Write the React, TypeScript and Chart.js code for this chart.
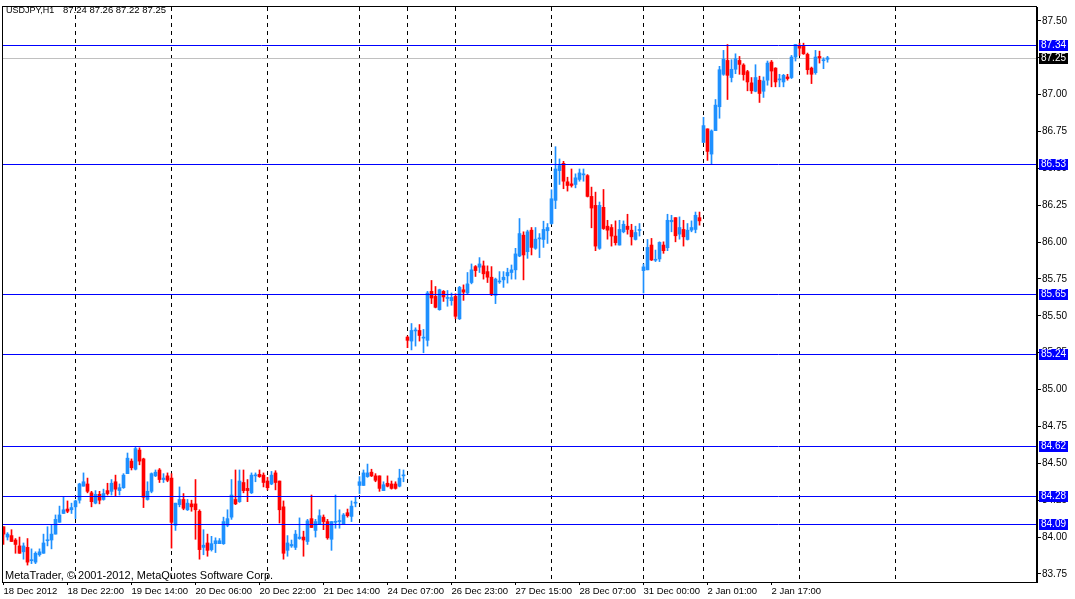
import { useEffect, useRef } from "react";
import { Chart, registerables, type Plugin } from "chart.js";

Chart.register(...registerables);

const FONT = "'Liberation Sans', Arial, sans-serif";

// time labels, one every 16 bars starting at bar 0
const timeLabels = [
  "18 Dec 2012", "18 Dec 22:00", "19 Dec 14:00", "20 Dec 06:00", "20 Dec 22:00",
  "21 Dec 14:00", "24 Dec 07:00", "26 Dec 23:00", "27 Dec 15:00", "28 Dec 07:00",
  "31 Dec 00:00", "2 Jan 01:00", "2 Jan 17:00",
];
const labelStep = 16;
// bars where a new day starts (dashed separators)
const daySeparators = [18, 42, 66, 89, 101, 113, 137, 160, 175, 199, 223];

const opens = [
  84.07, 84.0, 84.01, 83.98, 83.94, 83.9, 83.93, 83.84, 83.83, 83.88,
  83.89, 83.975, 83.98, 84.02, 84.1, 84.16, 84.19, 84.185, 84.205, 84.25,
  84.345, 84.36, 84.3, 84.23, 84.29, 84.255, 84.315, 84.31, 84.375, 84.315,
  84.335, 84.43, 84.515, 84.46, 84.59, 84.53, 84.255, 84.31, 84.415, 84.455,
  84.39, 84.415, 84.4, 84.08, 84.22, 84.255, 84.185, 84.225, 84.225, 84.175,
  83.93, 83.96, 83.915, 83.955, 83.955, 83.955, 84.08, 84.135, 84.255, 84.24,
  84.37, 84.33, 84.3, 84.415, 84.425, 84.42, 84.38, 84.36, 84.435, 84.38,
  84.205, 83.91, 83.94, 83.93, 83.99, 84.0, 83.97, 84.125, 84.045, 84.09,
  84.135, 84.105, 83.985, 84.1, 84.105, 84.09, 84.165, 84.14, 84.23, 84.35,
  84.35, 84.41, 84.44, 84.415, 84.415, 84.315, 84.365, 84.36, 84.36, 84.345,
  84.415, 85.356, 85.329, 85.398, 85.401, 85.349, 85.334, 85.666, 85.632, 85.542,
  85.666, 85.618, 85.603, 85.632, 85.48, 85.677, 85.655, 85.726, 85.834, 85.83,
  85.839, 85.8, 85.762, 85.639, 85.73, 85.744, 85.771, 85.794, 85.812, 85.906,
  86.047, 85.935, 86.081, 85.958, 86.022, 86.018, 86.077, 86.126, 86.283, 86.485,
  86.534, 86.409, 86.395, 86.391, 86.425, 86.456, 86.451, 86.31, 86.249, 85.958,
  86.236, 86.108, 86.099, 86.041, 85.98, 86.07, 86.108, 86.081, 86.018, 86.079,
  85.807, 85.812, 85.98, 85.877, 85.886, 85.98, 85.962, 86.138, 86.166, 86.054,
  86.086, 86.018, 86.081, 86.086, 86.166, 86.676, 86.768, 86.597, 86.756, 86.918,
  87.138, 87.232, 87.116, 87.172, 87.232, 87.201, 87.156, 87.08, 87.023, 87.098,
  87.023, 87.098, 87.221, 87.18, 87.1, 87.086, 87.12, 87.116, 87.255, 87.329,
  87.327, 87.273, 87.18, 87.149, 87.259, 87.23, 87.24,
];
const highs = [
  84.07, 84.03, 84.05, 83.99, 84.0, 83.96, 83.99, 83.92, 83.9, 83.92,
  84.02, 84.07, 84.08, 84.15, 84.21, 84.27, 84.245, 84.23, 84.25, 84.365,
  84.435, 84.4, 84.31, 84.315, 84.31, 84.325, 84.365, 84.39, 84.42, 84.36,
  84.43, 84.57, 84.53, 84.61, 84.605, 84.535, 84.375, 84.435, 84.455, 84.465,
  84.43, 84.435, 84.43, 84.23, 84.34, 84.295, 84.255, 84.25, 84.39, 84.185,
  84.05, 84.02, 84.005, 83.995, 83.99, 84.135, 84.185, 84.39, 84.455, 84.455,
  84.455, 84.39, 84.435, 84.435, 84.455, 84.435, 84.405, 84.445, 84.45, 84.38,
  84.245, 84.01, 83.98, 84.045, 84.13, 84.04, 84.12, 84.285, 84.12, 84.185,
  84.15, 84.12, 84.105, 84.285, 84.185, 84.16, 84.19, 84.245, 84.27, 84.41,
  84.455, 84.495, 84.46, 84.43, 84.415, 84.375, 84.415, 84.38, 84.375, 84.46,
  84.455, 85.363, 85.448, 85.419, 85.441, 85.408, 85.666, 85.74, 85.699, 85.681,
  85.672, 85.672, 85.655, 85.65, 85.7, 85.71, 85.794, 85.852, 85.841, 85.895,
  85.872, 85.839, 85.834, 85.756, 85.8, 85.8, 85.823, 85.845, 85.958, 86.16,
  86.07, 86.081, 86.099, 86.099, 86.058, 86.142, 86.126, 86.355, 86.647, 86.564,
  86.548, 86.44, 86.496, 86.463, 86.496, 86.496, 86.458, 86.373, 86.339, 86.272,
  86.357, 86.148, 86.119, 86.144, 86.148, 86.144, 86.189, 86.121, 86.108, 86.126,
  85.852, 86.018, 86.025, 85.946, 86.002, 86.002, 86.189, 86.182, 86.166, 86.171,
  86.148, 86.126, 86.144, 86.204, 86.204, 86.846, 86.768, 86.761, 86.967, 87.192,
  87.3, 87.34, 87.237, 87.277, 87.259, 87.21, 87.165, 87.116, 87.203, 87.125,
  87.12, 87.228, 87.232, 87.183, 87.138, 87.138, 87.138, 87.266, 87.34, 87.349,
  87.349, 87.282, 87.187, 87.3, 87.295, 87.25, 87.26,
];
const lows = [
  83.95, 83.98, 83.97, 83.89, 83.89, 83.85, 83.81, 83.82, 83.82, 83.87,
  83.89, 83.94, 83.92, 84.02, 84.1, 84.16, 84.165, 84.16, 84.125, 84.23,
  84.345, 84.3, 84.205, 84.225, 84.225, 84.25, 84.285, 84.285, 84.275, 84.285,
  84.33, 84.43, 84.455, 84.455, 84.49, 84.2, 84.25, 84.3, 84.41, 84.37,
  84.37, 84.375, 83.925, 84.045, 84.205, 84.185, 84.18, 84.175, 83.985, 83.85,
  83.88, 83.87, 83.905, 83.895, 83.955, 83.95, 84.07, 84.12, 84.22, 84.235,
  84.3, 84.24, 84.295, 84.375, 84.405, 84.34, 84.32, 84.355, 84.32, 84.095,
  83.85, 83.87, 83.93, 83.915, 83.985, 83.87, 83.95, 84.065, 84.0, 84.085,
  84.05, 83.985, 83.91, 84.06, 84.06, 84.085, 84.135, 84.105, 84.205, 84.295,
  84.35, 84.405, 84.41, 84.375, 84.31, 84.315, 84.34, 84.325, 84.325, 84.34,
  84.375, 85.284, 85.269, 85.295, 85.329, 85.25, 85.295, 85.583, 85.554, 85.538,
  85.598, 85.565, 85.572, 85.48, 85.475, 85.605, 85.65, 85.717, 85.767, 85.794,
  85.749, 85.726, 85.637, 85.583, 85.72, 85.693, 85.722, 85.749, 85.749, 85.901,
  85.744, 85.89, 85.913, 85.951, 85.895, 85.964, 85.991, 86.121, 86.227, 86.391,
  86.362, 86.346, 86.373, 86.368, 86.413, 86.413, 86.306, 86.097, 85.942, 85.951,
  86.086, 86.02, 85.973, 85.98, 85.98, 86.063, 86.054, 85.98, 86.014, 86.041,
  85.655, 85.812, 85.875, 85.868, 85.868, 85.924, 85.942, 86.07, 86.002, 86.02,
  85.973, 86.014, 86.07, 86.063, 86.115, 86.676, 86.554, 86.525, 86.756, 86.84,
  87.131, 86.967, 87.086, 87.142, 87.138, 87.098, 87.026, 87.008, 87.019, 86.947,
  86.981, 87.064, 87.053, 87.053, 87.053, 87.053, 87.098, 87.109, 87.228, 87.266,
  87.273, 87.138, 87.075, 87.138, 87.214, 87.176, 87.22,
];
const closes = [
  84.02, 84.02, 83.97, 83.95, 83.89, 83.94, 83.83, 83.845, 83.89, 83.9,
  83.96, 83.98, 84.02, 84.12, 84.15, 84.185, 84.175, 84.2, 84.245, 84.36,
  84.375, 84.31, 84.24, 84.29, 84.25, 84.295, 84.295, 84.365, 84.325, 84.335,
  84.42, 84.535, 84.47, 84.6, 84.515, 84.27, 84.31, 84.43, 84.44, 84.39,
  84.4, 84.385, 84.1, 84.23, 84.255, 84.195, 84.23, 84.205, 84.185, 83.915,
  83.945, 83.91, 83.955, 83.975, 83.975, 84.105, 84.125, 84.285, 84.225, 84.38,
  84.315, 84.315, 84.42, 84.418, 84.41, 84.37, 84.335, 84.42, 84.37, 84.185,
  83.89, 83.96, 83.95, 84.02, 84.0, 83.98, 84.11, 84.065, 84.105, 84.145,
  84.105, 83.995, 84.105, 84.105, 84.11, 84.15, 84.145, 84.21, 84.235, 84.375,
  84.435, 84.435, 84.415, 84.385, 84.33, 84.355, 84.345, 84.33, 84.33, 84.4,
  84.418, 85.334, 85.401, 85.403, 85.367, 85.352, 85.655, 85.621, 85.558, 85.677,
  85.628, 85.621, 85.625, 85.497, 85.693, 85.661, 85.717, 85.812, 85.807, 85.852,
  85.785, 85.762, 85.643, 85.749, 85.733, 85.762, 85.794, 85.812, 85.92, 86.058,
  85.913, 86.07, 85.964, 86.02, 86.025, 86.086, 86.099, 86.294, 86.496, 86.519,
  86.413, 86.384, 86.384, 86.436, 86.469, 86.458, 86.31, 86.231, 85.973, 86.249,
  86.092, 86.081, 86.041, 85.996, 86.086, 86.121, 86.086, 86.036, 86.065, 86.081,
  85.832, 85.964, 85.879, 85.88, 85.998, 85.942, 86.148, 86.148, 86.043, 86.099,
  86.036, 86.081, 86.099, 86.182, 86.144, 86.79, 86.615, 86.754, 86.929, 87.169,
  87.241, 87.131, 87.172, 87.243, 87.205, 87.136, 87.086, 87.026, 87.116, 87.008,
  87.093, 87.214, 87.16, 87.086, 87.102, 87.131, 87.109, 87.255, 87.34, 87.315,
  87.277, 87.169, 87.138, 87.255, 87.25, 87.232, 87.25,
];

const priceTicks = [83.75, 84.0, 84.25, 84.5, 84.75, 85.0, 85.25, 85.5, 85.75, 86.0, 86.25, 86.5, 86.75, 87.0, 87.25, 87.5];
const levelPrices = [87.34, 86.53, 85.65, 85.24, 84.62, 84.28, 84.09];
const bidPrice = 87.25;
const symbolText = "USDJPY,H1";
const ohlcText = "87.24 87.26 87.22 87.25";
const copyrightText = "MetaTrader, \u00a9 2001-2012, MetaQuotes Software Corp.";

const BULL = "#1e90ff";
const BEAR = "#ff0000";
const LEVEL = "#0000ff";

const labelBars = timeLabels.map((_, i) => i * labelStep);
const xTickValues = Array.from(new Set([...labelBars, ...daySeparators])).sort((a, b) => a - b);
const candleColors = opens.map((o, i) => (closes[i] >= o ? BULL : BEAR));

const overlay: Plugin<"bar"> = {
  id: "mtOverlay",
  beforeDatasetsDraw(chart) {
    const { ctx, chartArea: a } = chart;
    const y = Math.round(chart.scales.y.getPixelForValue(bidPrice)) + 0.5;
    ctx.save();
    ctx.strokeStyle = "#c0c0c0";
    ctx.lineWidth = 1;
    ctx.beginPath();
    ctx.moveTo(a.left, y);
    ctx.lineTo(a.right, y);
    ctx.stroke();
    ctx.restore();
  },
  afterDatasetsDraw(chart) {
    const { ctx, chartArea: a } = chart;
    ctx.save();
    ctx.strokeStyle = LEVEL;
    ctx.lineWidth = 1;
    for (const p of levelPrices) {
      const y = Math.round(chart.scales.y.getPixelForValue(p)) + 0.5;
      ctx.beginPath();
      ctx.moveTo(a.left, y);
      ctx.lineTo(a.right, y);
      ctx.stroke();
    }
    ctx.restore();
  },
  afterDraw(chart) {
    const { ctx, chartArea: a } = chart;
    ctx.save();
    // frame
    ctx.strokeStyle = "#000";
    ctx.lineWidth = 1;
    ctx.strokeRect(a.left - 0.5, a.top - 0.5, a.right - a.left, a.bottom - a.top + 1);

    // price boxes on the axis
    ctx.font = `10px ${FONT}`;
    ctx.textBaseline = "middle";
    const box = (p: number, bg: string) => {
      const y = Math.round(chart.scales.y.getPixelForValue(p));
      ctx.fillStyle = bg;
      ctx.fillRect(a.right + 2, y - 5, 29, 11);
      ctx.fillStyle = "#fff";
      ctx.fillText(p.toFixed(2), a.right + 4, y + 0.5);
    };
    levelPrices.forEach((p) => box(p, "#0000ff"));
    box(bidPrice, "#000");

    ctx.fillStyle = "#000";
    ctx.textBaseline = "alphabetic";
    ctx.font = `9px ${FONT}`;
    ctx.fillText(symbolText, 6, 13);
    ctx.font = `9.5px ${FONT}`;
    ctx.fillText(ohlcText, 63, 13);
    ctx.font = `11px ${FONT}`;
    ctx.fillText(copyrightText, 5, 579);
    ctx.restore();
  },
};

export default function App() {
  const canvasRef = useRef<HTMLCanvasElement>(null);

  useEffect(() => {
    document.body.style.margin = "0";
    if (!canvasRef.current) return;

    const chart = new Chart(canvasRef.current, {
      type: "bar",
      data: {
        datasets: [
          {
            label: "body",
            data: opens.map((o, i) => ({ x: i, y: [o, closes[i]] })) as any,
            backgroundColor: candleColors,
            barThickness: 3,
            minBarLength: 1,
            grouped: false,
            order: 0,
          },
          {
            label: "wick",
            data: opens.map((_, i) => ({ x: i, y: [lows[i], highs[i]] })) as any,
            backgroundColor: candleColors,
            barThickness: 1,
            minBarLength: 1,
            grouped: false,
            order: 1,
          },
        ],
      },
      options: {
        animation: false,
        responsive: false,
        devicePixelRatio: 1,
        layout: { padding: { left: 3, top: 3, right: 0, bottom: 0 } },
        plugins: { legend: { display: false }, tooltip: { enabled: false } },
        scales: {
          x: {
            type: "linear",
            offset: false,
            min: -0.125,
            max: 258.375,
            afterBuildTicks: (s) => {
              s.ticks = xTickValues.map((v) => ({ value: v }));
            },
            afterFit: (s) => {
              s.height = 17;
            },
            ticks: {
              autoSkip: false,
              maxRotation: 0,
              align: "start",
              padding: 1,
              color: "#000",
              font: { family: FONT, size: 9.5 },
              callback: (v) => {
                const n = Number(v);
                return n % labelStep === 0 && n / labelStep < timeLabels.length ? timeLabels[n / labelStep] : "";
              },
            },
            grid: {
              offset: false,
              color: (c) => (daySeparators.includes(c.tick?.value) ? "#000" : "rgba(0,0,0,0)"),
              tickColor: (c) => (labelBars.includes(c.tick?.value) ? "#000" : "rgba(0,0,0,0)"),
              tickLength: 3,
              lineWidth: 1,
            },
            border: { color: "#000", dash: [4, 4] },
          },
          y: {
            type: "linear",
            position: "right",
            min: 83.6953,
            max: 87.5943,
            afterBuildTicks: (s) => {
              s.ticks = priceTicks.map((v) => ({ value: v }));
            },
            afterFit: (s) => {
              s.width = 38;
            },
            ticks: {
              padding: 1,
              color: "#000",
              font: { family: FONT, size: 10 },
              callback: (v) => Number(v).toFixed(2),
            },
            grid: { drawOnChartArea: false, tickLength: 4, tickColor: "#000" },
            border: { color: "#000" },
          },
        },
      },
      plugins: [overlay],
    });

    return () => chart.destroy();
  }, []);

  return (
    <div style={{ width: 1075, height: 599, background: "#fff" }}>
      <canvas ref={canvasRef} width={1075} height={599} />
    </div>
  );
}
